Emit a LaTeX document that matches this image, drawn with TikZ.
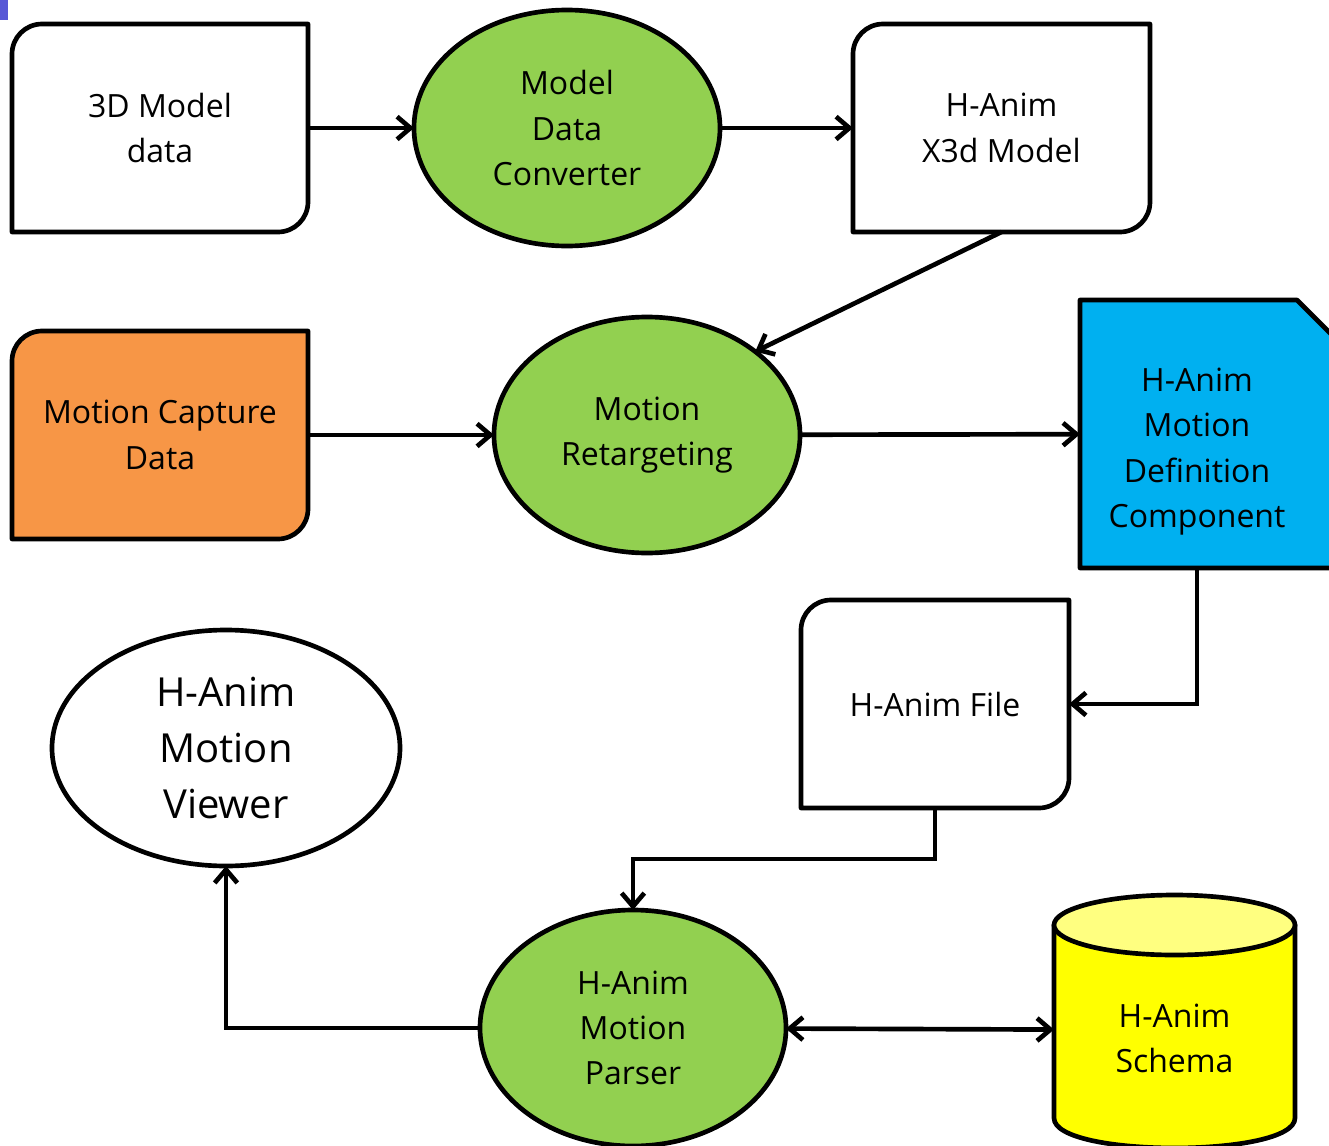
\documentclass[tikz,border=0pt]{standalone}
\usepackage{fontspec}
\setmainfont{Open Sans}
\usetikzlibrary{shapes.geometric,arrows.meta,calc,backgrounds}

\definecolor{procgreen}{RGB}{146,208,80}
\definecolor{caporange}{RGB}{247,150,70}
\definecolor{defblue}{RGB}{0,176,240}
\definecolor{cylyellow}{RGB}{255,255,0}
\definecolor{cyltop}{RGB}{255,255,128}
\definecolor{markblue}{RGB}{88,88,214}

\tikzset{
  outl/.style={line width=3.5pt, line join=round},
  databox/.style={rectangle, minimum width=222pt, minimum height=156pt, inner sep=0pt, outer sep=0pt, align=center, font=\fontsize{24}{34}\selectfont},
  proc/.style={ellipse, draw, line width=3.5pt, fill=procgreen, minimum width=229.5pt, minimum height=177pt, inner sep=0pt, outer sep=0pt, align=center, font=\fontsize{24}{34}\selectfont},
  barb/.tip={Straight Barb[length=10pt,width=17pt,line width=3.5pt]},
  conn/.style={line width=3.5pt, -barb},
  conntwo/.style={line width=3.5pt, barb-barb}
}

\begin{document}
\begin{tikzpicture}[x=0.75pt,y=-0.75pt]
    \useasboundingbox (0,0) rectangle (1329,1146);
    %Shape: corner mark
    \fill[markblue] (0,0) rectangle (8,20);

    % Text Node
    \node[databox] (model) at (160,128) {3D Model\\data};
    % Text Node
    \node[proc] (conv) at (567,128) {Model\\Data\\Converter};
    % Text Node
    \node[databox, minimum width=222.75pt] (x3d) at (1001.5,128) {H-Anim\\X3d Model};
    % Text Node
    \node[databox] (mocap) at (160,435) {Motion Capture\\Data};
    % Text Node
    \node[proc] (retarget) at (647,435) {Motion\\Retargeting};
    % Text Node
    \node[databox, minimum width=175.5pt, minimum height=201pt] (defn) at (1197,434) {\rule{0pt}{44pt}H-Anim\\Motion\\Definition\\Component};
    % Text Node
    \node[databox, minimum width=201pt] (file) at (935,704) {H-Anim File};
    % Text Node
    \node[proc, fill=white, minimum width=261pt, font=\fontsize{30}{42}\selectfont] (viewer) at (226,748) {H-Anim\\Motion\\Viewer};
    % Text Node
    \node[proc] (parser) at (633,1028) {H-Anim\\Motion\\Parser};
    % Text Node
    \node[databox, minimum width=180.75pt, minimum height=177pt] (schema) at (1174.5,1030) {\rule{0pt}{30pt}H-Anim\\Schema};

    \begin{scope}[on background layer]
    %Shape: Round Diagonal Corner Rectangle
    \foreach \n/\c in {model/white, x3d/white, mocap/caporange, file/white}{
      \draw[outl, fill=\c] (\n.north east) -- ($(\n.south east)+(0,-30)$) arc[start angle=0, end angle=-90, radius=22.5pt]
        -- (\n.south west) -- ($(\n.north west)+(0,30)$) arc[start angle=180, end angle=90, radius=22.5pt] -- cycle;
    }
    %Shape: Snip Single Corner Rectangle
    \draw[outl, fill=defblue] (defn.north west) -- ($(defn.north east)+(-17,0)$) -- ($(defn.north east)+(31,48)$)
      -- ($(defn.south east)+(31,0)$) -- (defn.south west) -- cycle;
    %Shape: Can
    \draw[outl, fill=cylyellow] ($(schema.north west)+(0,13)$) -- ($(schema.south west)+(0,-30)$)
      .. controls ($(schema.south west)+(0,10)$) and ($(schema.south east)+(0,10)$) .. ($(schema.south east)+(0,-30)$)
      -- ($(schema.north east)+(0,13)$) -- cycle;
    \draw[outl, fill=cyltop] ($(schema.north)+(0,13)$) ellipse [x radius=90.375pt, y radius=22.5pt];
    \end{scope}

    %Straight Lines
    \draw[conn] (model) -- (conv);
    \draw[conn] (conv) -- (x3d);
    \draw[conn] (x3d.south) -- (retarget.north east);
    \draw[conn] (mocap) -- (retarget);
    \draw[conn] (retarget) -- (defn);
    \draw[conn] (defn.south) |- (file);
    \draw[conn] (file.south) -- ++(0,51) -| (parser.north);
    \draw[conn] (parser.west) -| (viewer.south);
    \draw[conntwo] (parser) -- (schema);

\end{tikzpicture}
\end{document}
